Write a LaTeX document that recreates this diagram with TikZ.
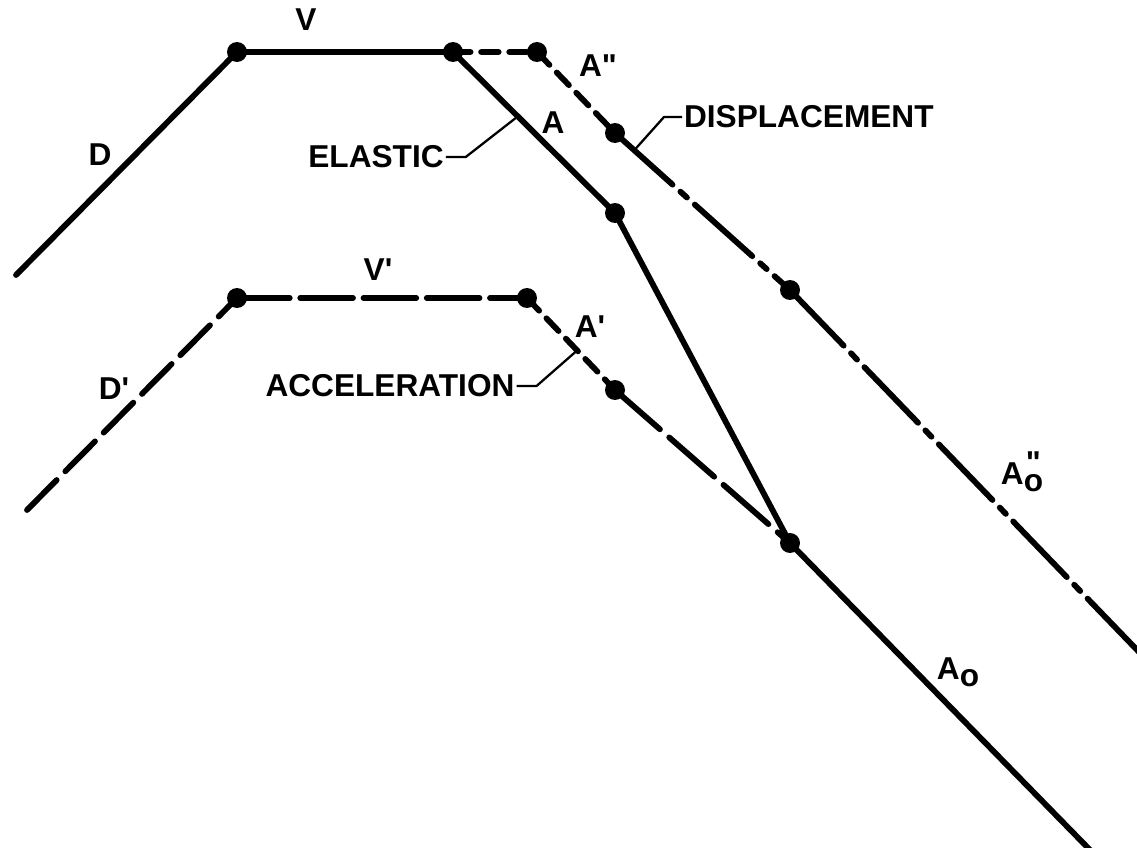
\documentclass[tikz,border=0pt]{standalone}
\usepackage{fontspec}
\setmainfont[Ligatures=TeXOff]{Liberation Sans}
\usetikzlibrary{positioning}

\begin{document}
\begin{tikzpicture}[x=0.02cm, y=-0.02cm,
  curve/.style={line width=3.3pt, line cap=round, line join=round},
  shortdash/.style={curve, dash pattern=on 10pt off 6pt},
  longdash/.style={curve, dash pattern=on 24pt off 7pt},
  phantom/.style={curve, dash pattern=on 44pt off 6pt on 5pt off 6pt},
  dot/.style={circle, fill, inner sep=0pt, minimum size=0.4cm},
  lab/.style={font=\fontsize{18}{20}\selectfont\bfseries, inner sep=1pt},
  lead/.style={line width=1.3pt, line join=round}]
  \useasboundingbox (0,0) rectangle (1137,848);
  % break points of the curves
  \coordinate (d0) at (16,275);
  \coordinate (v1) at (237,52);
  \coordinate (v2) at (453,52);
  \coordinate (ad1) at (537,52);
  \coordinate (ad2) at (615,133);
  \coordinate (ad3) at (790,290);
  \coordinate (ad4) at (1140,653);
  \coordinate (ae1) at (615,213);
  \coordinate (ao) at (790,543);
  \coordinate (ao2) at (1092,852);
  \coordinate (dd0) at (27,510);
  \coordinate (vv1) at (237,298);
  \coordinate (vv2) at (527,298);
  \coordinate (aa1) at (615,390);
  % elastic curve
  \draw[curve] (d0) -- (v1) -- (v2) -- (ae1) -- (ao) -- (ao2);
  % displacement curve
  \draw[shortdash] (v2) -- (ad1) -- (ad2);
  \draw[phantom] (ad2) -- (ad3);
  \draw[phantom] (ad3) -- (ad4);
  % acceleration curve
  \draw[longdash] (dd0) -- (vv1);
  \draw[curve, dash pattern=on 30pt off 6pt] (vv1) -- (vv2);
  \draw[shortdash] (vv2) -- (aa1);
  \draw[curve, dash pattern=on 34pt off 7pt] (aa1) -- (ao);
  % dots
  \foreach \p in {v1,v2,ad1,ad2,ad3,ae1,ao,vv1,vv2,aa1}
    \node[dot] at (\p) {};
  % labels
  \node[lab] (lD) at (100,155) {D};
  \node[lab] (lV) at (306,20) {V};
  \node[lab] (lA) at (553,123) {A};
  \node[lab] (lAdd) at (598,66) {A"};
  \node[lab] (lDd) at (114,389) {D'};
  \node[lab] (lVd) at (378,270) {V'};
  \node[lab] (lAd) at (590,327) {A'};
  \node[lab] (lAo) at (958,672) {A\raisebox{-0.22em}{o}};
  \node[lab] (lAodd) at (1022,472) {A\raisebox{-0.22em}{\shortstack{"\\[-0.15em]o}}};
  \node[lab] (el) at (376,157) {ELASTIC};
  \node[lab, anchor=west] (dis) at (682,117) {DISPLACEMENT};
  \node[lab] (acc) at (390,386) {ACCELERATION};
  % leaders
  \path (v2) -- (ae1) coordinate[pos=0.4] (elx);
  \path (ad2) -- (ad3) coordinate[pos=0.11] (disx);
  \path (vv2) -- (aa1) coordinate[pos=0.57] (accx);
  \draw[lead] (el.east) -- ++(20,0) -- (elx);
  \draw[lead] (dis.west) -- ++(-18,0) -- (disx);
  \draw[lead] (acc.east) -- ++(20,0) -- (accx);
\end{tikzpicture}
\end{document}
